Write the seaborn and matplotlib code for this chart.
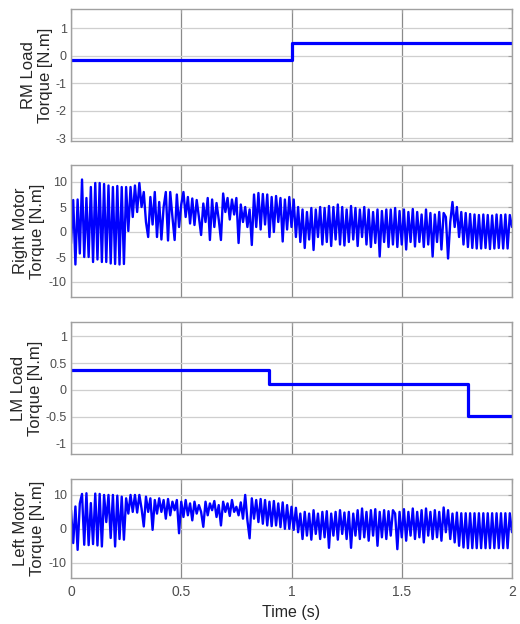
import numpy as np
import pandas as pd
import matplotlib
matplotlib.use("Agg")
import matplotlib.pyplot as plt
import seaborn as sns

# ---------------- data ----------------
rm_load_time = [0.0, 1.0, 2.0]
rm_load_value = [-0.15, 0.45, 0.45]

lm_load_time = [0.0, 0.9, 1.8, 2.0]
lm_load_value = [0.38, 0.11, -0.48, -0.48]

sample_step = 0.01  # s, sampling of the motor torque traces

right_motor_torque = [
    -2.3, 6.4, -6.5, 6.5, -4.3, 10.5, -5.0, 6.8, -5.0, 9.0,
    -6.0, 9.8, -5.5, 9.8, -6.0, 9.6, -6.0, 9.3, -6.3, 9.0,
    -6.4, 9.2, -6.5, 9.0, -6.4, 9.0, 0.2, 9.0, 3.0, 9.3,
    4.0, 9.8, 5.0, 8.0, 2.0, -1.0, 7.0, 1.5, 8.0, -1.0,
    6.0, -1.5, 5.0, 8.0, -1.7, 8.0, 3.0, -1.6, 7.5, 1.0,
    5.5, 8.0, 3.0, 7.0, 1.7, 6.7, 1.4, 6.4, 3.0, -0.6,
    5.7, 2.0, 6.8, -1.6, 6.5, 1.0, 5.8, 2.5, -1.6, 7.7,
    4.0, 6.8, 2.5, 6.5, 3.5, 6.8, -2.2, 5.5, 2.0, 5.0,
    1.0, 4.5, -2.6, 7.5, 1.0, 7.8, 0.5, 7.6, 1.5, 7.5,
    -1.0, 7.0, 0.0, 7.2, 2.0, 6.8, -1.9, 6.5, 0.5, 7.0,
    1.0, 6.5, -1.0, 5.0, -2.0, 4.5, -3.2, 4.0, -1.5, 4.8,
    -3.6, 4.5, -1.0, 5.0, -2.5, 4.8, -2.0, 5.2, -2.8, 5.0,
    -1.5, 5.5, -2.5, 5.0, -2.7, 4.5, -2.0, 5.2, -1.5, 4.8,
    -2.8, 4.5, -1.0, 5.0, -2.5, 4.5, -3.0, 4.0, -2.2, 4.5,
    -4.9, 4.2, -2.0, 4.5, -3.0, 4.5, -2.5, 4.8, -3.0, 4.2,
    -2.5, 4.5, -3.5, 4.0, -2.0, 4.6, -2.9, 4.0, -2.0, 3.5,
    -3.0, 4.5, -2.5, 3.8, -4.9, 3.5, -2.0, 4.0, -3.5, 3.8,
    3.0, -5.3, 2.0, 6.0, 1.0, 5.0, -1.0, 4.0, -2.5, 3.8,
    -3.0, 3.6, -3.2, 3.5, -3.3, 3.4, -3.3, 3.5, -3.2, 3.4,
    -3.4, 3.3, -3.3, 3.5, -3.2, 3.4, -3.3, 3.5, -3.3, 3.4,
    1.0,
]

left_motor_torque = [
    5.5, -4.2, 6.6, -6.2, 7.5, 10.3, -4.7, 10.5, -4.8, 7.6,
    -4.5, 10.4, -4.9, 10.3, -5.2, 10.0, 2.0, 10.0, -2.7, 10.0,
    -5.2, 9.8, -3.0, 9.5, -3.2, 9.0, 4.5, 10.0, 5.0, 10.0,
    4.8, 10.0, 6.0, 0.7, 9.5, 5.0, 9.0, -0.3, 8.5, 4.5,
    9.0, 5.0, 8.5, 3.0, 8.8, 4.0, 8.0, 5.5, 8.5, -1.3,
    8.0, 3.5, 8.5, 4.0, 7.5, 2.5, 8.0, 4.5, 7.0, 5.0,
    0.6, 8.0, 4.0, 7.5, 5.5, 8.2, 3.5, 7.0, 1.0, 8.0,
    5.0, 7.5, 3.8, 8.5, 5.0, 6.5, 4.0, 7.8, 3.0, 10.0,
    2.5, -2.8, 9.0, 3.0, 8.5, 2.0, 8.8, 1.5, 8.5, 1.0,
    8.0, 0.8, 8.2, 1.0, 7.5, 0.5, 7.8, 0.0, 7.0, 0.0,
    6.5, -0.3, 6.2, -1.0, 4.5, -3.0, 5.0, -2.0, 4.5, -3.2,
    5.5, -1.5, 4.5, -3.0, 5.0, -2.5, 5.2, -5.6, 4.5, -2.0,
    5.0, -3.2, 5.5, -1.5, 4.8, -3.0, 5.0, -5.6, 4.5, -2.0,
    5.5, -3.0, 6.0, -2.5, 5.0, -3.5, 5.5, -2.0, 5.8, -5.0,
    5.0, -2.5, 5.5, -3.0, 5.2, -2.0, 5.5, 4.5, -6.0, 5.0,
    -2.5, 5.8, -3.5, 5.0, -2.0, 6.0, -3.0, 5.0, -2.5, 5.5,
    -4.0, 6.0, -2.0, 5.0, -3.0, 5.5, -2.5, 5.0, -3.5, 6.3,
    -1.0, 5.5, -3.0, 4.5, -4.0, 4.8, -5.0, 4.6, -5.5, 4.6,
    -5.7, 4.6, -5.7, 4.6, -5.7, 4.6, -5.7, 4.6, -5.7, 4.6,
    -5.7, 4.6, -5.7, 4.6, -5.7, 4.6, -5.7, 4.6, -5.7, 4.6,
    -1.0,
]

x_ticks = [0, 0.5, 1, 1.5, 2]
x_tick_labels = ["0", "0.5", "1", "1.5", "2"]

panel_labels = [
    "RM Load\nTorque [N.m]",
    "Right Motor\nTorque [N.m]",
    "LM Load\nTorque [N.m]",
    "Left Motor\nTorque [N.m]",
]
panel_yticks = [
    [-3, -2, -1, 0, 1],
    [-10, -5, 0, 5, 10],
    [-1, -0.5, 0, 0.5, 1],
    [-10, 0, 10],
]
panel_ytick_labels = [
    ["-3", "-2", "-1", "0", "1"],
    ["-10", "-5", "0", "5", "10"],
    ["-1", "-0.5", "0", "0.5", "1"],
    ["-10", "0", "10"],
]
panel_ylims = [(-3.1, 1.7), (-13.0, 13.4), (-1.2, 1.27), (-14.5, 14.7)]
x_label = "Time (s)"

# ---------------- figure ----------------
sns.set_style("white")
plt.rcParams["font.family"] = ["Liberation Sans", "DejaVu Sans"]

fig = plt.figure(figsize=(5.2, 6.24), dpi=100)

left = 71 / 520
width = (512 - 71) / 520
boxes_px = [(9, 141), (165, 297), (322, 454), (479, 578)]
label_x = [-0.041, -0.059, -0.063, -0.059]

axes = []
for top, bottom in boxes_px:
    ax = fig.add_axes([left, 1 - bottom / 624, width, (bottom - top) / 624])
    axes.append(ax)

n_r = len(right_motor_torque)
n_l = len(left_motor_torque)
df_rm = pd.DataFrame({"t": rm_load_time, "v": rm_load_value})
df_right = pd.DataFrame({"t": np.arange(n_r) * sample_step, "v": right_motor_torque})
df_lm = pd.DataFrame({"t": lm_load_time, "v": lm_load_value})
df_left = pd.DataFrame({"t": np.arange(n_l) * sample_step, "v": left_motor_torque})

blue = "#0000FF"
sns.lineplot(data=df_rm, x="t", y="v", ax=axes[0], color=blue, lw=2.3,
             drawstyle="steps-post", estimator=None, sort=False)
sns.lineplot(data=df_right, x="t", y="v", ax=axes[1], color=blue, lw=1.7,
             estimator=None, sort=False)
sns.lineplot(data=df_lm, x="t", y="v", ax=axes[2], color=blue, lw=2.3,
             drawstyle="steps-post", estimator=None, sort=False)
sns.lineplot(data=df_left, x="t", y="v", ax=axes[3], color=blue, lw=1.7,
             estimator=None, sort=False)

for i, ax in enumerate(axes):
    ax.set_xlim(0, 2)
    ax.set_ylim(*panel_ylims[i])
    ax.set_xticks(x_ticks)
    ax.set_yticks(panel_yticks[i])
    ax.set_yticklabels(panel_ytick_labels[i])
    if i == 3:
        ax.set_xticklabels(x_tick_labels)
        ax.set_xlabel(x_label, fontsize=11.5, color="#262626", labelpad=4)
    else:
        ax.set_xticklabels([])
        ax.set_xlabel("")
    ax.set_ylabel(panel_labels[i], fontsize=12, color="#262626", linespacing=1.2)
    ax.yaxis.set_label_coords(label_x[i], 0.5)
    ax.set_axisbelow(True)
    ax.xaxis.grid(True, color="#8a8a8a", lw=0.9)
    ax.yaxis.grid(True, color="#cfcfcf", lw=0.9)
    for s in ax.spines.values():
        s.set_visible(True)
        s.set_color("#a0a0a0")
        s.set_linewidth(1.0)
    ax.tick_params(axis="both", direction="in", length=3, width=0.8,
                   color="#a0a0a0", top=True, right=True, labelcolor="#4d4d4d")
    ax.tick_params(axis="y", labelsize=9, pad=3)
    ax.tick_params(axis="x", labelsize=10, pad=5)

fig.savefig("out.png", dpi=100, facecolor="white")
